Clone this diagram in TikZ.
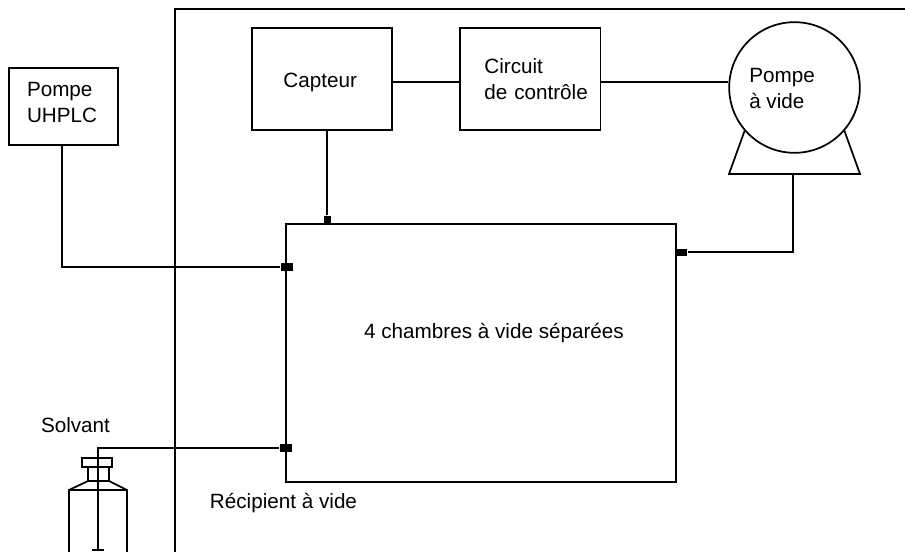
\documentclass[tikz,border=0pt]{standalone}
\usepackage{fontspec}
\setmainfont{Liberation Sans}
\usetikzlibrary{positioning}

\begin{document}
\begin{tikzpicture}[x=0.75pt,y=-0.75pt,line width=1.3pt,
every node/.style={font=\fontsize{15.5}{19.5}\selectfont},
boite/.style={draw,minimum height=76.5pt,inner sep=0pt,align=left},
texte/.style={align=left,inner sep=0pt},
port/.style={draw=none,fill=black,inner sep=0pt}]
\useasboundingbox (0,0) rectangle (905,552);
\node(chambres)[draw,minimum width=293pt,minimum height=193.5pt,inner sep=0pt] at (481,353){};
\node(titre)[texte] at (494,333){4 chambres à vide séparées};
\node(capteur)[boite,text width=57.8pt,inner xsep=23.6pt,text height=13.5pt,text depth=0pt] at (322,79){Capteur};
\node(circuit)[boite,right=49.5pt of capteur,text width=105.5pt]{\hspace*{18.5pt}Circuit\\\hspace*{18.5pt}de contrôle};
\node(pompe)[boite,minimum height=58pt,text width=81.75pt] at (63.5,106.5){\hspace*{13.5pt}Pompe\\\hspace*{13.5pt}UHPLC\rule[-6pt]{0pt}{6pt}};
\node(vide)[draw,circle,minimum size=98pt,inner sep=0pt] at (794.5,87.5){};
\node(videtxt)[texte] at (782,88.5){Pompe\\à vide};
\node(solvant)[texte] at (75.5,425){Solvant};
\node(recipient)[texte] at (283.5,503){Récipient à vide};
\node(portC)[port,minimum width=5.25pt,minimum height=6.75pt] at (327,220.5){};
\node(portP)[port,minimum width=9pt,minimum height=6pt] at (287,267){};
\node(portS)[port,minimum width=9pt,minimum height=6pt] at (286,448){};
\node(portV)[port,minimum width=8.25pt,minimum height=5.25pt] at (681.5,252){};
\coordinate(socle) at (793,174);
\coordinate(plongeur) at (98,550);
\coordinate(coinA) at (175,552);
\coordinate(coinB) at (175,9);
\coordinate(coinC) at (905,9);
\coordinate(liaisonA) at (capteur.east |- 0,82);
\coordinate(liaisonB) at (circuit.west |- 0,82);
\coordinate(liaisonC) at (circuit.east |- 0,82);
\coordinate(liaisonD) at (vide.west |- 0,82);
\coordinate(sortieC) at (327,0 |- capteur.south);
\coordinate(sortieP) at (62,0 |- pompe.south);
\draw(coinA)--(coinB)--(coinC);
\draw(liaisonA)--(liaisonB);
\draw(liaisonC)--(liaisonD);
\draw(sortieC)--(portC);
\draw(sortieP)|-(portP);
\draw(portS)-|(plongeur);
\draw(socle)|-(portV);
\draw(vide.221)--(729,174)--(860,174)--(vide.319);
\draw(92,550)--(104,550);
\draw(82,458)rectangle(112,467);
\draw(88,467)--(88,481)--(69,490)--(69,552);
\draw(109,467)--(109,481)--(127,490)--(127,552);
\draw(88,481)--(109,481);
\draw(69,490)--(127,490);
\end{tikzpicture}
\end{document}
